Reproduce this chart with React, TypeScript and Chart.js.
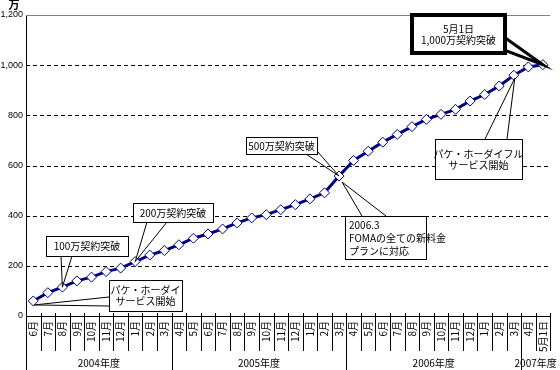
import { useEffect, useRef } from "react";
import { Chart, registerables } from "chart.js";

Chart.register(...registerables);

// ---------- data ----------
const monthLabels = [
  "6月", "7月", "8月", "9月", "10月", "11月", "12月", "1月", "2月", "3月",
  "4月", "5月", "6月", "7月", "8月", "9月", "10月", "11月", "12月", "1月", "2月", "3月",
  "4月", "5月", "6月", "7月", "8月", "9月", "10月", "11月", "12月", "1月", "2月", "3月",
  "4月", "5月1日",
];
const subscribers = [
  60, 93, 115, 140, 155, 177, 191, 217, 243, 261,
  284, 310, 327, 347, 371, 391, 404, 424, 444, 467, 491, 558,
  620, 657, 693, 724, 755, 784, 804, 824, 857, 883, 917, 960,
  993, 1002,
];
const fiscalYears = ["2004年度", "2005年度", "2006年度", "2007年度"];
const fiscalYearSpans = [10, 12, 12, 2];
const yTicks = [0, 200, 400, 600, 800, 1000, 1200];
const unitLabel = "万";

const calloutTexts = [
  ["パケ・ホーダイ", "サービス開始"],
  ["100万契約突破"],
  ["200万契約突破"],
  ["500万契約突破"],
  ["2006.3", "FOMAの全ての新料金", "プランに対応"],
  ["パケ・ホーダイフル", "サービス開始"],
  ["5月1日", "1,000万契約突破"],
];
const calloutTargets = [0, 2, 7, 21, 21, 33, 35];

// ---------- layout (annotation boxes: x1,y1,x2,y2, pointer base points, tip offset) ----------
const calloutLayout = [
  { box: [109, 280, 182, 311], base: [[109, 297], [109, 306]], tip: [1, 4], align: "center", lh: 11, thick: false },
  { box: [46, 236, 128, 256], base: [[61, 256], [72, 256]], tip: [0, 0], align: "center", lh: 11, thick: false },
  { box: [133, 203, 213, 222], base: [[147, 222], [167, 222]], tip: [0, 0], align: "center", lh: 11, thick: false },
  { box: [246, 137, 317, 154], base: [[306, 154], [317, 151]], tip: [0, 0], align: "center", lh: 11, thick: false },
  { box: [345, 216, 426, 259], base: [[362, 216], [386, 216]], tip: [3, 6], align: "left", lh: 13, thick: false },
  { box: [435, 139, 522, 179], base: [[485, 139], [507, 139]], tip: [1, 3], align: "center", lh: 11, thick: false },
  { box: [410, 13, 507, 55], base: [[507, 37], [507, 50]], tip: [0, 0], align: "center", lh: 11, thick: true },
];

const FONT = "'Noto Sans CJK JP', 'Noto Sans', sans-serif";
const NUM_FONT = "'Liberation Sans', Arial, sans-serif";

const overlayPlugin = {
  id: "overlay",
  beforeDatasetsDraw(chart: any) {
    const { ctx, chartArea: ca, scales } = chart;
    const y = scales.y;
    ctx.save();
    yTicks.forEach((v, i) => {
      if (v === 0) return;
      const py = Math.round(y.getPixelForValue(v)) + 0.5;
      ctx.beginPath();
      if (i === yTicks.length - 1) {
        ctx.setLineDash([]);
        ctx.strokeStyle = "#808080";
      } else {
        ctx.setLineDash([4, 3]);
        ctx.strokeStyle = "#000";
      }
      ctx.lineWidth = 1;
      ctx.moveTo(ca.left, py);
      ctx.lineTo(ca.right, py);
      ctx.stroke();
    });
    ctx.restore();
  },
  afterDraw(chart: any) {
    const { ctx, chartArea: ca, scales } = chart;
    const x = scales.x;
    const y = scales.y;
    const H = chart.height;
    ctx.save();
    // category tick marks
    const half = (x.getPixelForValue(1) - x.getPixelForValue(0)) / 2;
    const boundary = (i: number) => x.getPixelForValue(i) - half;
    ctx.strokeStyle = "#000";
    ctx.lineWidth = 1;
    ctx.setLineDash([]);
    for (let i = 1; i <= monthLabels.length; i++) {
      const px = Math.round(boundary(i)) + 0.5;
      ctx.beginPath();
      ctx.moveTo(px, ca.bottom - 3);
      ctx.lineTo(px, ca.bottom + 35);
      ctx.stroke();
    }
    // fiscal year separators and labels
    let start = 0;
    const ax = Math.round(ca.left) + 0.5;
    ctx.beginPath();
    ctx.moveTo(ax, ca.bottom);
    ctx.lineTo(ax, H);
    ctx.stroke();
    ctx.font = `10px ${FONT}`;
    ctx.fillStyle = "#000";
    ctx.textAlign = "center";
    ctx.textBaseline = "middle";
    fiscalYears.forEach((label, k) => {
      const end = start + fiscalYearSpans[k];
      const x0 = boundary(start);
      const x1 = boundary(end);
      if (start > 0) {
        const px = Math.round(x0) + 0.5;
        ctx.beginPath();
        ctx.moveTo(px, ca.bottom);
        ctx.lineTo(px, H);
        ctx.stroke();
      }
      ctx.fillText(label, (x0 + x1) / 2, ca.bottom + 47);
      start = end;
    });
    // unit label
    ctx.font = `bold 11px ${FONT}`;
    ctx.textAlign = "center";
    ctx.fillText(unitLabel, ca.left - 12, ca.top - 10);

    // callouts
    calloutTexts.forEach((lines, k) => {
      const L = calloutLayout[k];
      const idx = calloutTargets[k];
      const tx = x.getPixelForValue(idx) + L.tip[0];
      const ty = y.getPixelForValue(subscribers[idx]) + L.tip[1];
      const [x1, y1, x2, y2] = L.box;
      ctx.setLineDash([]);
      if (L.thick) {
        ctx.beginPath();
        ctx.moveTo(L.base[0][0] - 3, L.base[0][1]);
        ctx.lineTo(tx, ty);
        ctx.lineTo(L.base[1][0] - 3, L.base[1][1]);
        ctx.closePath();
        ctx.fillStyle = "#fff";
        ctx.fill();
        ctx.lineWidth = 3;
        ctx.strokeStyle = "#000";
        ctx.stroke();
        ctx.fillStyle = "#fff";
        ctx.fillRect(x1 + 2, y1 + 2, x2 - x1 - 4, y2 - y1 - 4);
        ctx.lineWidth = 4;
        ctx.strokeRect(x1 + 2, y1 + 2, x2 - x1 - 4, y2 - y1 - 4);
      } else {
        ctx.lineWidth = 1;
        ctx.strokeStyle = "#000";
        L.base.forEach(([bx, by]) => {
          ctx.beginPath();
          ctx.moveTo(bx, by);
          ctx.lineTo(tx, ty);
          ctx.stroke();
        });
        ctx.fillStyle = "#fff";
        ctx.fillRect(x1, y1, x2 - x1, y2 - y1);
        ctx.strokeRect(x1 + 0.5, y1 + 0.5, x2 - x1, y2 - y1);
      }
      ctx.fillStyle = "#000";
      ctx.font = `10px ${FONT}`;
      ctx.textBaseline = "middle";
      const cy = (y1 + y2) / 2 + 0.5;
      const n = lines.length;
      lines.forEach((t, j) => {
        const ly = cy + (j - (n - 1) / 2) * L.lh;
        if (L.align === "left") {
          ctx.textAlign = "left";
          ctx.fillText(t, x1 + 4, ly);
        } else {
          ctx.textAlign = "center";
          ctx.fillText(t, (x1 + x2) / 2, ly);
        }
      });
    });
    ctx.restore();
  },
};

export default function App() {
  const ref = useRef<HTMLCanvasElement>(null);
  useEffect(() => {
    const chart = new Chart(ref.current as HTMLCanvasElement, {
      type: "line",
      data: {
        labels: monthLabels,
        datasets: [
          {
            data: subscribers,
            borderColor: "#000080",
            borderWidth: 3,
            pointStyle: "rectRot",
            pointRadius: 5,
            pointBackgroundColor: "#fff",
            pointBorderColor: "#000080",
            pointBorderWidth: 1,
            tension: 0,
            clip: false as any,
          },
        ],
      },
      options: {
        animation: false,
        responsive: false,
        devicePixelRatio: 1,
        layout: { padding: { left: 0, right: 4, top: 15, bottom: 0 } },
        plugins: { legend: { display: false }, tooltip: { enabled: false } },
        scales: {
          x: {
            type: "category",
            offset: true,
            grid: { display: false, drawTicks: false },
            border: { display: true, color: "#000", width: 1 },
            ticks: {
              autoSkip: false,
              maxRotation: 90,
              minRotation: 90,
              padding: 5,
              color: "#000",
              font: { family: FONT, size: 10 },
            },
            afterFit: (s: any) => {
              s.height = 54;
            },
          },
          y: {
            min: 0,
            max: 1200,
            afterBuildTicks: (s: any) => {
              s.ticks = yTicks.map((v) => ({ value: v }));
            },
            grid: { display: false, drawTicks: false },
            border: { display: true, color: "#000", width: 1 },
            ticks: {
              padding: 3,
              color: "#000",
              font: { family: NUM_FONT, size: 9 },
              callback: (v: any) => Number(v).toLocaleString("en-US"),
            },
            afterFit: (s: any) => {
              s.width = 26;
            },
          },
        },
      },
      plugins: [overlayPlugin],
    });
    return () => chart.destroy();
  }, []);
  return (
    <div style={{ position: "fixed", left: 0, top: 0, width: 560, height: 370, background: "#fff" }}>
      <canvas ref={ref} width={560} height={370} style={{ width: 560, height: 370, display: "block" }} />
    </div>
  );
}
